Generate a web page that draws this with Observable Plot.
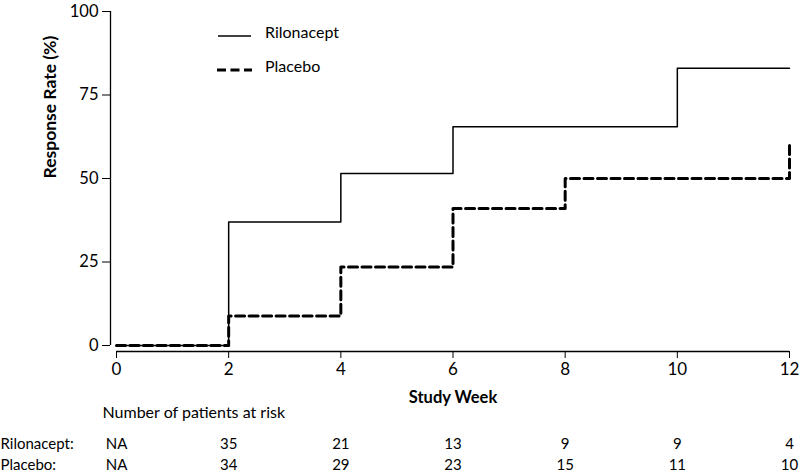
<!DOCTYPE html>
<html>
<head>
<meta charset="utf-8">
<script src="https://cdn.jsdelivr.net/npm/d3@7"></script>
<script src="https://cdn.jsdelivr.net/npm/@observablehq/plot@0.6"></script>
<style>
  html, body { margin: 0; padding: 0; background: #fff; }
  #wrap { position: relative; width: 800px; height: 475px; font-family: Lato, "DejaVu Sans", sans-serif; }
  #chart svg { overflow: visible; }
  .leg { position: absolute; font-size: 16px; color: #000; line-height: 1; }
</style>
</head>
<body>
<div id="wrap">
  <div id="chart"></div>
  <div class="leg" style="left:217px; top:26px;">
    <svg width="36" height="14" style="vertical-align:middle"><line x1="1" y1="7" x2="34" y2="7" stroke="#000" stroke-width="1.5"/></svg>
  </div>
  <div class="leg" style="left:265px; top:24px;" id="legA"></div>
  <div class="leg" style="left:217px; top:60px;">
    <svg width="36" height="14" style="vertical-align:middle"><line x1="0" y1="7" x2="35" y2="7" stroke="#000" stroke-width="3" stroke-dasharray="9,4.5"/></svg>
  </div>
  <div class="leg" style="left:265px; top:58px;" id="legB"></div>
</div>
<script>
// Series names
const seriesNames = ["Rilonacept", "Placebo"];

// Response rate (%) step curves
const riloWeeks = [0, 2, 4, 6, 10, 12];
const riloRate  = [0, 37, 51.5, 65.5, 83, 83];
const placWeeks = [0, 2, 4, 6, 8, 12];
const placRate  = [0, 8.8, 23.5, 41, 50, 61];

// Axis ticks
const xTicks = [0, 2, 4, 6, 8, 10, 12];
const yTicks = [0, 25, 50, 75, 100];

// Number of patients at risk
const riskWeeks = [0, 2, 4, 6, 8, 10, 12];
const riloRisk  = ["NA", "35", "21", "13", "9", "9", "4"];
const placRisk  = ["NA", "34", "29", "23", "15", "11", "10"];

const xLabel = "Study Week";
const yLabel = "Response Rate (%)";
const riskTitle = "Number of patients at risk";

document.getElementById("legA").textContent = seriesNames[0];
document.getElementById("legB").textContent = seriesNames[1];

const rilo = riloWeeks.map((w, i) => ({week: w, rate: riloRate[i]}));
const plac = placWeeks.map((w, i) => ({week: w, rate: placRate[i]}));

const chart = Plot.plot({
  width: 800,
  height: 475,
  marginLeft: 116,
  marginRight: 11,
  marginTop: 11,
  marginBottom: 130,
  style: { fontFamily: "Lato, 'DejaVu Sans', sans-serif", color: "#000", background: "#fff", overflow: "visible" },
  x: { domain: [0, 12] },
  y: { domain: [0, 100] },
  marks: [
    Plot.ruleX([0], { y1: 0, y2: 100, dx: -6, stroke: "#000", strokeWidth: 1.3 }),
    Plot.ruleY([0], { x1: 0, x2: 12, dy: 6, stroke: "#000", strokeWidth: 1.3 }),
    Plot.axisY({ ticks: yTicks, tickSize: 8, tickPadding: 4, dx: -6, label: null, fontSize: 16.5, tickFormat: d => String(d), stroke: "#000" }),
    Plot.axisX({ ticks: xTicks, tickSize: 7, tickPadding: 4, dy: 6, label: null, fontSize: 17, tickFormat: d => String(d), stroke: "#000" }),
    Plot.line(rilo, { x: "week", y: "rate", curve: "step-after", stroke: "#000", strokeWidth: 1.5 }),
    Plot.line(plac, { x: "week", y: "rate", curve: "step-after", stroke: "#000", strokeWidth: 3, strokeDasharray: "9,4.5" }),
    Plot.text([yLabel], { frameAnchor: "left", dx: -66, rotate: -90, fontSize: 17.5, fontWeight: "bold", fill: "#000" }),
    Plot.text([xLabel], { frameAnchor: "bottom", dy: 57, fontSize: 16.5, fontWeight: "bold", fill: "#000" }),
    Plot.text([riskTitle], { frameAnchor: "bottom-left", dx: -14, dy: 72, textAnchor: "start", fontSize: 16, fill: "#000" }),
    Plot.text([seriesNames[0] + ":"], { frameAnchor: "bottom-left", dx: -116, dy: 103, textAnchor: "start", fontSize: 15, fill: "#000" }),
    Plot.text([seriesNames[1] + ":"], { frameAnchor: "bottom-left", dx: -116, dy: 124, textAnchor: "start", fontSize: 15, fill: "#000" }),
    Plot.text(riskWeeks, { x: d => d, text: (d, i) => riloRisk[i], frameAnchor: "bottom", dy: 103, fontSize: 15, fill: "#000" }),
    Plot.text(riskWeeks, { x: d => d, text: (d, i) => placRisk[i], frameAnchor: "bottom", dy: 124, fontSize: 15, fill: "#000" })
  ]
});
document.getElementById("chart").appendChild(chart);
</script>
</body>
</html>
